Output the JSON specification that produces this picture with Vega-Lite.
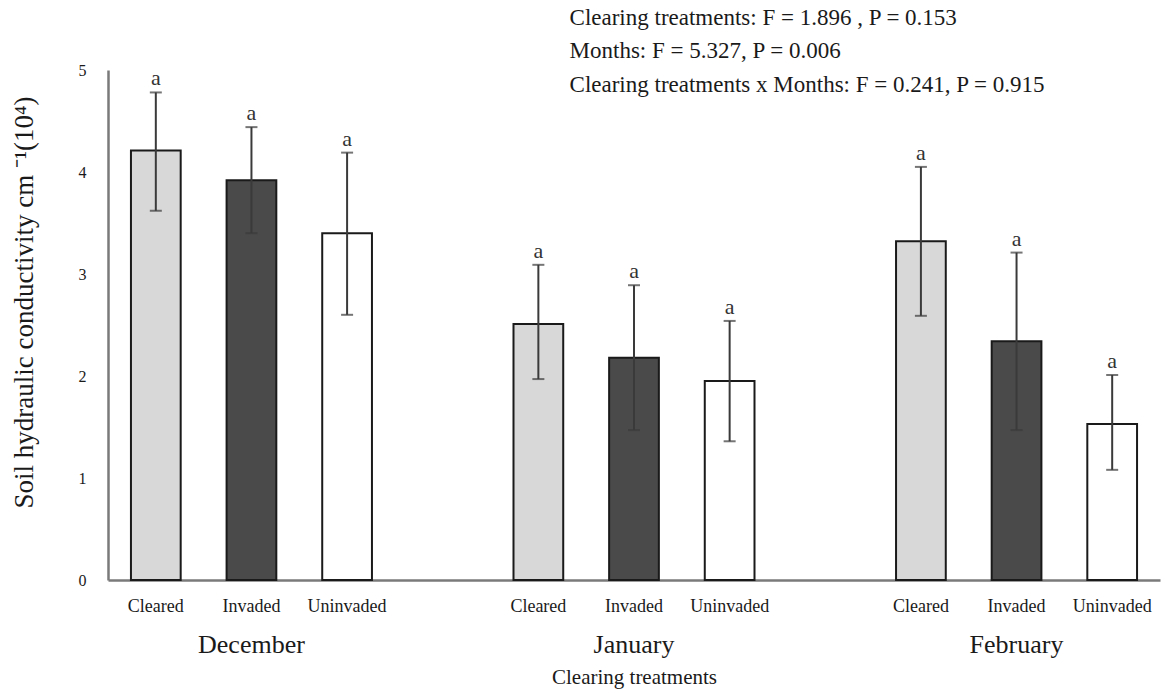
{
  "$schema": "https://vega.github.io/schema/vega-lite/v6.json",
  "width": 1052,
  "height": 510,
  "autosize": "none",
  "padding": {"left": 108, "top": 70, "right": 11, "bottom": 113},
  "background": "white",
  "config": {
    "font": "Liberation Serif",
    "text": {"font": "Liberation Serif"},
    "axis": {"labelFont": "Liberation Serif", "titleFont": "Liberation Serif"},
    "view": {"stroke": null}
  },
  "data": {
    "values": [
      {"month": "December", "treatment": "Cleared", "mean": 4.21, "lo": 3.62, "hi": 4.78, "letter": "a"},
      {"month": "December", "treatment": "Invaded", "mean": 3.92, "lo": 3.40, "hi": 4.44, "letter": "a"},
      {"month": "December", "treatment": "Uninvaded", "mean": 3.40, "lo": 2.60, "hi": 4.19, "letter": "a"},
      {"month": "January", "treatment": "Cleared", "mean": 2.51, "lo": 1.97, "hi": 3.09, "letter": "a"},
      {"month": "January", "treatment": "Invaded", "mean": 2.18, "lo": 1.47, "hi": 2.89, "letter": "a"},
      {"month": "January", "treatment": "Uninvaded", "mean": 1.95, "lo": 1.36, "hi": 2.54, "letter": "a"},
      {"month": "February", "treatment": "Cleared", "mean": 3.32, "lo": 2.59, "hi": 4.05, "letter": "a"},
      {"month": "February", "treatment": "Invaded", "mean": 2.34, "lo": 1.47, "hi": 3.21, "letter": "a"},
      {"month": "February", "treatment": "Uninvaded", "mean": 1.53, "lo": 1.08, "hi": 2.01, "letter": "a"}
    ]
  },
  "encoding": {
    "x": {
      "field": "month",
      "type": "nominal",
      "sort": ["December", "January", "February"],
      "scale": {"paddingInner": 0.25, "paddingOuter": 0},
      "axis": {
        "title": "Clearing treatments",
        "titleFontSize": 21,
        "titleFontWeight": "normal",
        "titleColor": "#1a1a1a",
        "titlePadding": 9,
        "labelAngle": 0,
        "labelFontSize": 26,
        "labelColor": "#1a1a1a",
        "labelPadding": 51,
        "ticks": false,
        "domainColor": "#7a7a7a",
        "domainWidth": 2.5
      }
    },
    "xOffset": {
      "field": "treatment",
      "type": "nominal",
      "sort": ["Cleared", "Invaded", "Uninvaded"],
      "scale": {"paddingInner": 0.48, "paddingOuter": 0.24}
    }
  },
  "layer": [
    {
      "mark": {"type": "bar", "stroke": "#1a1a1a", "strokeWidth": 2},
      "encoding": {
        "y": {
          "field": "mean",
          "type": "quantitative",
          "scale": {"domain": [0, 5], "nice": false},
          "axis": {
            "title": "Soil hydraulic conductivity cm \u207b\u00b9(10\u2074)",
            "titleFontSize": 27,
            "titleFontWeight": "normal",
            "titleColor": "#1a1a1a",
            "titlePadding": 40,
            "titleY": 232,
            "values": [0, 1, 2, 3, 4, 5],
            "format": "d",
            "labelFontSize": 16,
            "labelColor": "#1a1a1a",
            "labelPadding": 22,
            "ticks": false,
            "grid": false,
            "domainColor": "#7a7a7a",
            "domainWidth": 2.5
          }
        },
        "fill": {
          "field": "treatment",
          "type": "nominal",
          "scale": {"domain": ["Cleared", "Invaded", "Uninvaded"], "range": ["#d8d8d8", "#4a4a4a", "#ffffff"]},
          "legend": null
        }
      }
    },
    {
      "mark": {"type": "rule", "color": "#3a3a3a", "strokeWidth": 2},
      "encoding": {
        "y": {"field": "lo", "type": "quantitative"},
        "y2": {"field": "hi"}
      }
    },
    {
      "mark": {"type": "tick", "color": "#3a3a3a", "size": 12, "thickness": 2, "orient": "horizontal"},
      "encoding": {"y": {"field": "hi", "type": "quantitative"}}
    },
    {
      "mark": {"type": "tick", "color": "#3a3a3a", "size": 12, "thickness": 2, "orient": "horizontal"},
      "encoding": {"y": {"field": "lo", "type": "quantitative"}}
    },
    {
      "mark": {"type": "text", "font": "Liberation Serif", "fontSize": 22, "baseline": "bottom", "dy": -2, "color": "#333333"},
      "encoding": {
        "y": {"field": "hi", "type": "quantitative"},
        "text": {"field": "letter"}
      }
    },
    {
      "mark": {"type": "text", "font": "Liberation Serif", "fontSize": 18, "baseline": "middle", "dy": 27, "color": "#1a1a1a"},
      "encoding": {
        "y": {"datum": 0, "type": "quantitative"},
        "text": {"field": "treatment"}
      }
    },
    {
      "data": {"values": [{"month": "January", "label": "Clearing treatments: F = 1.896  , P = 0.153"}]},
      "mark": {"type": "text", "font": "Liberation Serif", "fontSize": 23, "align": "left", "baseline": "middle", "dx": 79, "color": "#1a1a1a"},
      "encoding": {
        "x": {"field": "month", "type": "nominal", "bandPosition": 0},
        "xOffset": null,
        "y": {"datum": 5.51, "type": "quantitative"},
        "text": {"field": "label"}
      }
    },
    {
      "data": {"values": [{"month": "January", "label": "Months: F = 5.327, P = 0.006"}]},
      "mark": {"type": "text", "font": "Liberation Serif", "fontSize": 23, "align": "left", "baseline": "middle", "dx": 79, "color": "#1a1a1a"},
      "encoding": {
        "x": {"field": "month", "type": "nominal", "bandPosition": 0},
        "xOffset": null,
        "y": {"datum": 5.19, "type": "quantitative"},
        "text": {"field": "label"}
      }
    },
    {
      "data": {"values": [{"month": "January", "label": "Clearing treatments x Months: F = 0.241, P = 0.915"}]},
      "mark": {"type": "text", "font": "Liberation Serif", "fontSize": 23, "align": "left", "baseline": "middle", "dx": 79, "color": "#1a1a1a"},
      "encoding": {
        "x": {"field": "month", "type": "nominal", "bandPosition": 0},
        "xOffset": null,
        "y": {"datum": 4.85, "type": "quantitative"},
        "text": {"field": "label"}
      }
    }
  ]
}
